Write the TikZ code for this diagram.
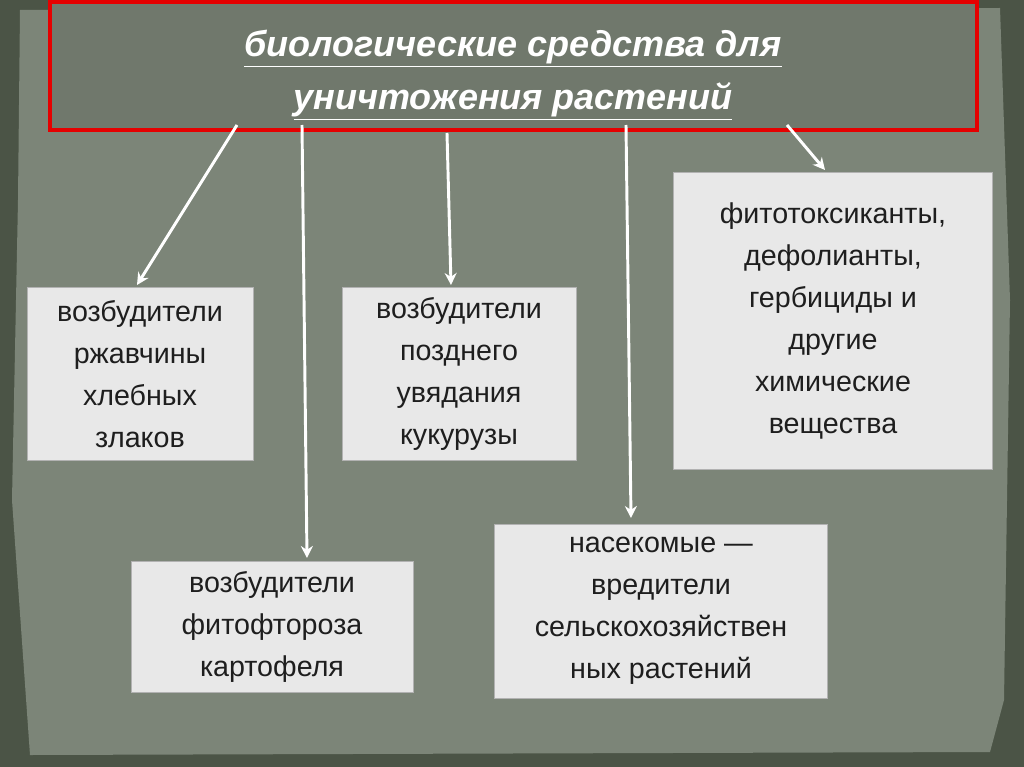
\documentclass[tikz,border=0pt]{standalone}
\usepackage{fontspec}
\setmainfont{Liberation Sans}
\usetikzlibrary{arrows.meta}
\definecolor{bgdark}{HTML}{4B5446}
\definecolor{paper}{HTML}{7C8578}
\definecolor{boxfill}{HTML}{E8E8E8}
\definecolor{txt}{HTML}{1E1E1E}
\newcommand{\ul}[1]{\underline{#1}}
\tikzset{
  sbox/.style={draw=gray!60,fill=boxfill,text=txt,align=center,font=\fontsize{21.5}{31.5}\selectfont,inner sep=0pt},
  arr/.style={draw=white,line width=2.2pt,-{Stealth[length=9pt,width=9pt]}}
}
\begin{document}
\begin{tikzpicture}[x=0.75pt,y=-0.75pt]
\fill[bgdark] (0,0) rectangle (1024,767);
\fill[paper] (20,10) -- (1000,8) -- (1010,300) -- (1004,700) -- (990,752) -- (30,755) -- (12,500) -- (18,200) -- cycle;
\fill[paper!90!black] (48,0) rectangle (975,128);
\node[draw=red!90!black,line width=3pt,minimum width=927*0.75pt,minimum height=128*0.75pt,anchor=north west] (t) at (48,0) {};
\node[text=white,align=center,font=\fontsize{27}{40}\selectfont\bfseries\itshape] (title) at (513,75)
  {\ul{биологические средства для}\\\ul{уничтожения растений}};
\node[sbox,minimum width=226*0.75pt,minimum height=173*0.75pt] (b1) at (140,374) {возбудители\\ржавчины\\хлебных\\злаков};
\node[sbox,minimum width=234*0.75pt,minimum height=173*0.75pt] (b2) at (459,374) {возбудители\\позднего\\увядания\\кукурузы};
\node[sbox,minimum width=319*0.75pt,minimum height=297*0.75pt] (b3) at (833,321) {фитотоксиканты,\\дефолианты,\\гербициды и\\другие\\химические\\вещества};
\node[sbox,minimum width=282*0.75pt,minimum height=131*0.75pt] (b4) at (272,627) {возбудители\\фитофтороза\\картофеля};
\node[sbox,minimum width=333*0.75pt,minimum height=174*0.75pt] (b5) at (661,611) {насекомые —\\вредители\\сельскохозяйствен\\ных растений};
\coordinate (s1) at (237,125); \coordinate (s2) at (302,125); \coordinate (s3) at (447,133);
\coordinate (s4) at (626,125); \coordinate (s5) at (787,125);
\draw[arr] (s1) -- (137,285);
\draw[arr] (s2) -- (307,558);
\draw[arr] (s3) -- (451,285);
\draw[arr] (s4) -- (631,518);
\draw[arr] (s5) -- (825,170);
\end{tikzpicture}
\end{document}
